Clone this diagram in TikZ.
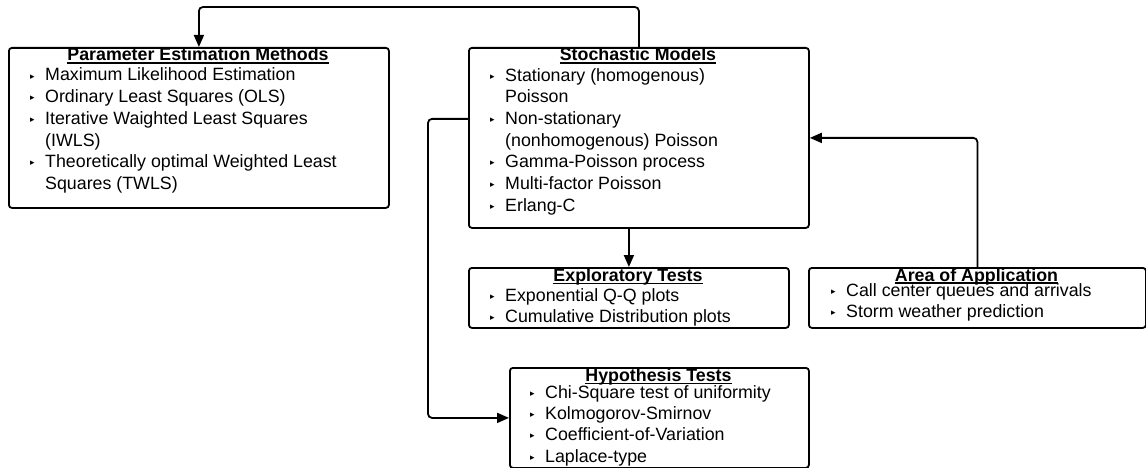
\documentclass[tikz,border=0pt]{standalone}
\usepackage{fontspec}
\setmainfont{Liberation Sans}
\newfontfamily\dejavu{DejaVu Sans}
\usetikzlibrary{arrows.meta}
\newcommand{\bul}{\makebox[15pt][l]{\raisebox{2pt}{\dejavu\fontsize{9}{9}\selectfont ▸}}}
\newcommand{\ind}{\hspace*{15pt}}
\tikzset{
  box/.style={draw, line width=1.8pt, rounded corners=3pt, inner sep=0pt, anchor=north west},
  ttl/.style={font=\bfseries\fontsize{17.8}{21.7}\selectfont, inner sep=0pt, anchor=base},
  lst/.style={font=\fontsize{17.8}{21.7}\selectfont, inner sep=0pt, anchor=base west, align=left},
  conn/.style={line width=1.8pt, rounded corners=4pt},
  arr/.style={conn, -{Triangle[length=12pt,width=10pt]}},
  uline/.style={line width=1.4pt}
}
\begin{document}
\begin{tikzpicture}[x=1pt,y=-1pt]
\fill[white] (0,0) rectangle (1146,468);
\useasboundingbox (0,0) rectangle (1146,468);
% boxes
\node[box, minimum width=380pt, minimum height=160pt] (pem) at (8,47) {};
\node[box, minimum width=340pt, minimum height=180pt] (stoch) at (468,47) {};
\node[box, minimum width=320pt, minimum height=60pt] (expl) at (468,267) {};
\node[box, minimum width=299pt, minimum height=100pt] (hyp) at (509,367) {};
\node[box, minimum width=337pt, minimum height=60pt] (area) at (808,267) {};
% titles
\node[ttl] (tpem) at (198,61) {Parameter Estimation Methods};
\node[ttl] (tstoch) at (638,61) {Stochastic Models};
\node[ttl] (texpl) at (628,281.7) {Exploratory Tests};
\node[ttl] (thyp) at (658.5,381.7) {Hypothesis Tests};
\node[ttl] (tarea) at (976.5,281) {Area of Application};
\foreach \t in {tpem,tstoch,texpl,thyp,tarea}{
  \draw[uline] ([yshift=-2pt]\t.base west) -- ([yshift=-2pt]\t.base east);
}
% lists (anchored at the baseline of their last line)
\node[lst] (lpem) at (30,189.5) {\bul Maximum Likelihood Estimation\\
\bul Ordinary Least Squares (OLS)\\
\bul Iterative Waighted Least Squares\\
\ind (IWLS)\\
\bul Theoretically optimal Weighted Least\\
\ind Squares (TWLS)};
\node[lst] (lstoch) at (490,211.2) {\bul Stationary (homogenous)\\
\ind Poisson\\
\bul Non-stationary\\
\ind (nonhomogenous) Poisson\\
\bul Gamma-Poisson process\\
\bul Multi-factor Poisson\\
\bul Erlang-C};
\node[lst] (lexpl) at (490,322.7) {\bul Exponential Q-Q plots\\
\bul Cumulative Distribution plots};
\node[lst, font=\fontsize{17.8}{21.3}\selectfont] (lhyp) at (530,462.2) {\bul Chi-Square test of uniformity\\
\bul Kolmogorov-Smirnov\\
\bul Coefficient-of-Variation\\
\bul Laplace-type};
\node[lst] (larea) at (831,317.7) {\bul Call center queues and arrivals\\
\bul Storm weather prediction};
% connectors
\coordinate (topturn) at (0,7);
\draw[arr] (stoch.north) -- (stoch.north |- topturn) -- (pem.north |- topturn) -- (pem.north);
\coordinate (sout) at ([yshift=19pt]stoch.west);
\coordinate (lx) at (428,0);
\draw[arr] (sout) -- (sout -| lx) -- (hyp.west -| lx) -- (hyp.west);
\draw[arr] (area.north) |- (stoch.east);
\draw[arr] (expl.north |- stoch.south) -- (expl.north);
\end{tikzpicture}
\end{document}
